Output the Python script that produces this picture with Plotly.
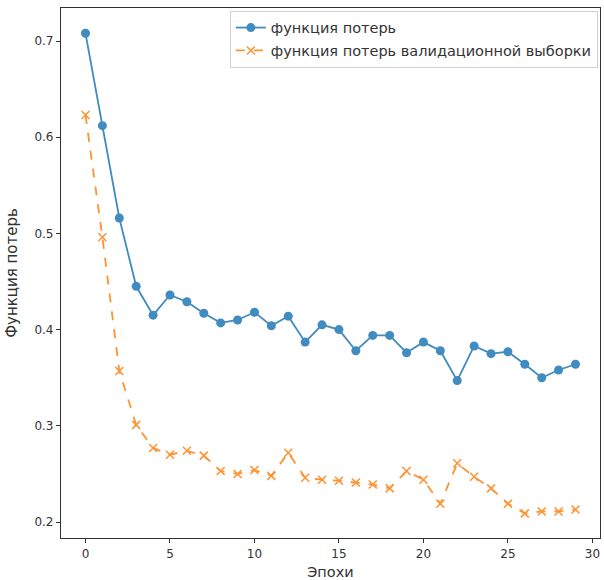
import plotly.graph_objects as go

epochs = list(range(30))
train_loss = [0.708, 0.612, 0.516, 0.445, 0.415, 0.436, 0.429, 0.417, 0.407, 0.410,
              0.418, 0.404, 0.414, 0.387, 0.405, 0.400, 0.378, 0.394, 0.394, 0.376,
              0.387, 0.378, 0.347, 0.383, 0.375, 0.377, 0.364, 0.350, 0.358, 0.364]
val_loss = [0.623, 0.496, 0.357, 0.301, 0.277, 0.270, 0.274, 0.269, 0.253, 0.250,
            0.254, 0.248, 0.272, 0.246, 0.244, 0.243, 0.241, 0.239, 0.235, 0.253,
            0.244, 0.219, 0.261, 0.247, 0.235, 0.219, 0.209, 0.211, 0.211, 0.213]
x_ticks = [0, 5, 10, 15, 20, 25, 30]
y_ticks = [0.2, 0.3, 0.4, 0.5, 0.6, 0.7]

FONT = "DejaVu Sans"

fig = go.Figure()
fig.add_trace(go.Scatter(
    x=epochs, y=train_loss, mode="lines+markers", name="функция потерь",
    legendgroup="a",
    line=dict(color="#1f77b4", width=1.8),
    marker=dict(symbol="circle", size=9, color="#1f77b4"),
    opacity=0.85,
))
fig.add_trace(go.Scatter(
    x=epochs, y=val_loss, mode="lines+markers", name="функция потерь валидационной выборки",
    legendgroup="b",
    line=dict(color="#ff7f0e", width=1.8, dash="dash"),
    marker=dict(symbol="x-thin", size=8, color="#ff7f0e", line=dict(color="#ff7f0e", width=1.5)),
    opacity=0.85,
))

axis_common = dict(
    showline=True, linecolor="#333333", linewidth=1.2, mirror=True,
    ticks="outside", ticklen=4, tickcolor="#333333", showgrid=False, zeroline=False,
    tickfont=dict(family=FONT, size=12, color="#333333"),
    automargin=False,
)

fig.update_layout(
    width=604, height=580,
    margin=dict(l=61, r=4, t=8, b=42),
    paper_bgcolor="white", plot_bgcolor="white",
    font=dict(family=FONT, size=12, color="#333333"),
    xaxis=dict(range=[-1.45, 30.45], tickvals=x_ticks,
               title=dict(text="Эпохи", font=dict(family=FONT, size=14.5), standoff=8),
               **axis_common),
    yaxis=dict(range=[0.1834, 0.7343], tickvals=y_ticks, tickformat=".1f",
               title=dict(text="Функция потерь", font=dict(family=FONT, size=15), standoff=13),
               **axis_common),
    legend=dict(x=0.996, y=0.995, xanchor="right", yanchor="top",
                bordercolor="#d0d0d0", borderwidth=1, bgcolor="rgba(255,255,255,0.8)",
                font=dict(family=FONT, size=14.5, color="#333333"),
                tracegroupgap=1, itemwidth=30, traceorder="grouped"),
    showlegend=True,
)

fig.write_html("out.html", config={"displayModeBar": False},
               post_script="document.body.style.margin='0px';")
